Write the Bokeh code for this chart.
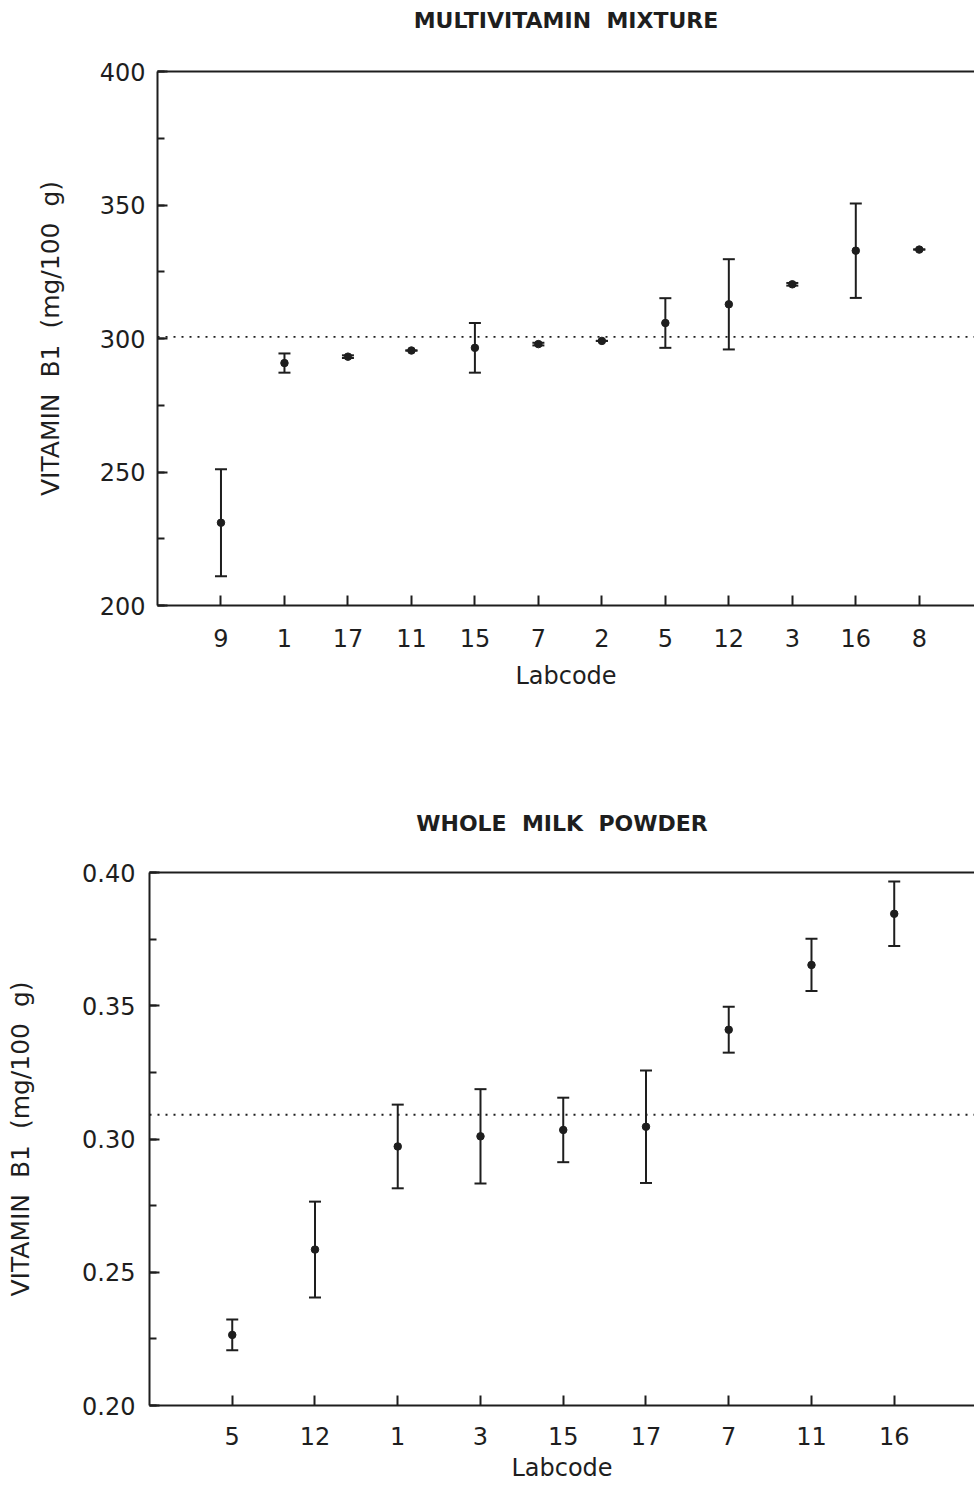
from bokeh.plotting import figure
from bokeh.models import (Range1d, FixedTicker, SingleIntervalTicker, LinearAxis,
                          Whisker, TeeHead, ColumnDataSource, Span, NumeralTickFormatter)
from bokeh.embed import file_html
from bokeh.resources import INLINE

NB = "\u00a0"

# ---- data: multivitamin mixture ----
mv_labs = ["9", "1", "17", "11", "15", "7", "2", "5", "12", "3", "16", "8"]
mv_mean = [231.0, 290.8, 293.2, 295.5, 296.5, 297.9, 299.1, 305.8, 312.8, 320.3, 332.9, 333.3]
mv_err = [20.0, 3.6, 0.5, 0.0, 9.3, 0.5, 0.0, 9.3, 16.9, 0.5, 17.7, 0.0]
mv_ref = 300.6
mv_title = "MULTIVITAMIN" + NB * 2 + "MIXTURE"

# ---- data: whole milk powder ----
wm_labs = ["5", "12", "1", "3", "15", "17", "7", "11", "16"]
wm_mean = [0.2265, 0.2585, 0.2972, 0.3010, 0.3034, 0.3046, 0.3410, 0.3653, 0.3845]
wm_err = [0.0058, 0.0180, 0.0157, 0.0177, 0.0121, 0.0211, 0.0086, 0.0098, 0.0121]
wm_ref = 0.3091
wm_title = "WHOLE" + NB * 2 + "MILK" + NB * 2 + "POWDER"

y_label = "VITAMIN" + NB * 2 + "B1" + NB * 2 + "(mg/100" + NB * 2 + "g)"
x_label = "Labcode"

INK = "#1e1e1e"
FONT = "DejaVu Sans"


def make_panel(labs, mean, err, ref, title, yr, yint, xend, height, mb_top, mb_bottom, mb_left,
               ylab_standoff, ytick_standoff, xtick_standoff, xlab_standoff,
               title_standoff, fmt=None):
    n = len(labs)
    xs = list(range(1, n + 1))
    src = ColumnDataSource(dict(
        x=xs, y=mean,
        lo=[m - e for m, e in zip(mean, err)],
        hi=[m + e for m, e in zip(mean, err)],
    ))
    p = figure(width=974, height=height, output_backend="svg", toolbar_location=None,
               x_range=Range1d(0, xend), y_range=Range1d(*yr),
               min_border_top=mb_top, min_border_bottom=mb_bottom,
               min_border_left=mb_left, min_border_right=0)
    p.background_fill_color = "white"
    p.border_fill_color = "white"
    p.outline_line_color = None
    p.grid.visible = False

    # x axis
    xa = p.xaxis[0]
    xa.ticker = FixedTicker(ticks=xs)
    xa.major_label_overrides = {i: l for i, l in zip(xs, labs)}
    xa.minor_tick_line_color = None
    xa.major_tick_in = 10
    xa.major_tick_out = 0
    xa.major_label_standoff = xtick_standoff
    xa.axis_label = x_label
    xa.axis_label_standoff = xlab_standoff
    # y axis
    ya = p.yaxis[0]
    ya.ticker = SingleIntervalTicker(interval=yint, num_minor_ticks=2)
    ya.major_tick_in = 10
    ya.major_tick_out = 0
    ya.minor_tick_in = 7
    ya.minor_tick_out = 0
    ya.major_label_standoff = ytick_standoff
    ya.axis_label = y_label
    ya.axis_label_standoff = ylab_standoff
    if fmt:
        ya.formatter = NumeralTickFormatter(format=fmt)

    for ax in (xa, ya):
        ax.axis_line_width = 2
        ax.axis_line_color = INK
        ax.major_tick_line_width = 2
        ax.major_tick_line_color = INK
        ax.minor_tick_line_width = 2
        ax.minor_tick_line_color = INK if ax is ya else None
        ax.major_label_text_font = FONT
        ax.major_label_text_font_size = "24px"
        ax.major_label_text_color = INK
        ax.axis_label_text_font = FONT
        ax.axis_label_text_font_size = "24px"
        ax.axis_label_text_font_style = "normal"
        ax.axis_label_text_color = INK
    ya.axis_label_text_font_size = "25px"

    # top border line carrying the panel title
    top = LinearAxis(ticker=FixedTicker(ticks=[]), axis_line_width=2, axis_line_color=INK,
                     major_tick_line_color=None, minor_tick_line_color=None,
                     major_label_text_font_size="0px",
                     axis_label=title, axis_label_standoff=title_standoff,
                     axis_label_text_font=FONT, axis_label_text_font_style="bold",
                     axis_label_text_font_size="22px", axis_label_text_color=INK)
    p.add_layout(top, "above")

    # reference line
    p.add_layout(Span(location=ref, dimension="width", line_color=INK,
                      line_width=1.8, line_dash="2 6"))

    # error bars
    w = Whisker(source=src, base="x", lower="lo", upper="hi", dimension="height",
                line_color=INK, line_width=2,
                lower_head=TeeHead(size=12, line_color=INK, line_width=2),
                upper_head=TeeHead(size=12, line_color=INK, line_width=2))
    p.add_layout(w)
    p.scatter("x", "y", source=src, marker="circle", size=7.5, fill_color=INK, line_color=INK)
    return p


p1 = make_panel(mv_labs, mv_mean, mv_err, mv_ref, mv_title, (200, 400), 50, 12.87,
                height=740, mb_top=71, mb_bottom=135, mb_left=157,
                ylab_standoff=32, ytick_standoff=12, xtick_standoff=23, xlab_standoff=12,
                title_standoff=39)
p2 = make_panel(wm_labs, wm_mean, wm_err, wm_ref, wm_title, (0.20, 0.40), 0.05, 9.97,
                height=745, mb_top=132, mb_bottom=80, mb_left=149,
                ylab_standoff=44, ytick_standoff=14, xtick_standoff=21, xlab_standoff=6,
                title_standoff=37, fmt="0.00")

open("out.html", "w").write(file_html([p1, p2], INLINE))
